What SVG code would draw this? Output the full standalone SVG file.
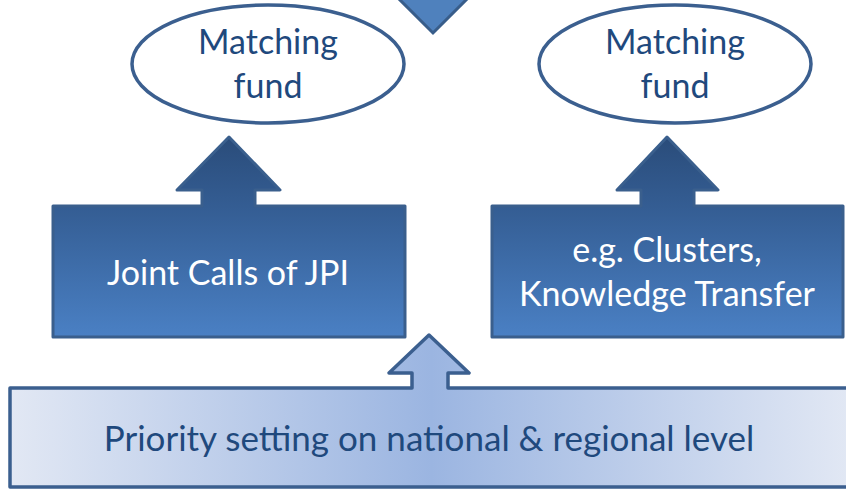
<svg xmlns="http://www.w3.org/2000/svg" width="846" height="491" viewBox="0 0 846 491">
<defs>
<linearGradient id="gBox" x1="0" y1="0" x2="0" y2="1">
<stop offset="0" stop-color="#2a4c7a"/>
<stop offset="0.35" stop-color="#345d93"/>
<stop offset="1" stop-color="#4a80c4"/>
</linearGradient>
<linearGradient id="gBase" x1="0" y1="0" x2="1" y2="0">
<stop offset="0" stop-color="#e2e8f4"/>
<stop offset="0.5" stop-color="#9bb5e1"/>
<stop offset="1" stop-color="#e2e8f4"/>
</linearGradient>
<style>
.box{fill:url(#gBox);stroke:#3a5f8d;stroke-width:3;stroke-linejoin:round}
.base{fill:url(#gBase);stroke:#3b5f8f;stroke-width:3.5;stroke-linejoin:round}
.ell{fill:#fff;stroke:#3b5f8f;stroke-width:3.5}
.tri{fill:#4f81bd;stroke:#385d8a;stroke-width:3}
.t{font-family:Lato,"Liberation Sans",sans-serif;font-size:34px;text-anchor:middle}
.dk{fill:#1f497d}
.wt{fill:#ffffff}
</style>
</defs>
<g id="top-arrow">
<polygon class="tri" points="397,-3 469,-3 433,33"/>
</g>
<g id="fund-left">
<ellipse class="ell" cx="268" cy="64" rx="136" ry="59"/>
<text class="t dk" x="268" y="54">Matching</text>
<text class="t dk" x="268" y="98">fund</text>
</g>
<g id="fund-right">
<ellipse class="ell" cx="675" cy="64" rx="136" ry="59"/>
<text class="t dk" x="675" y="54">Matching</text>
<text class="t dk" x="675" y="98">fund</text>
</g>
<g id="connectors">
</g>
<g id="joint-calls">
<path class="box" d="M53,206 H202 V190 H177 L229,137 L280,190 H255 V206 H405 V337 H53 Z"/>
<text class="t wt" x="228" y="285">Joint Calls of JPI</text>
</g>
<g id="clusters">
<path class="box" d="M492,206 H641 V190 H617 L667,137 L718,190 H694 V206 H843 V337 H492 Z"/>
<text class="t wt" x="667" y="262">e.g. Clusters,</text>
<text class="t wt" x="667" y="306">Knowledge Transfer</text>
</g>
<g id="priority">
<path class="base" d="M10,388 H412 V373 H389 L429,335 L469,373 H448 V388 H852 V487 H10 Z"/>
<text class="t dk" x="429" y="451" style="font-size:35px">Priority setting on national &amp; regional level</text>
</g>
</svg>
